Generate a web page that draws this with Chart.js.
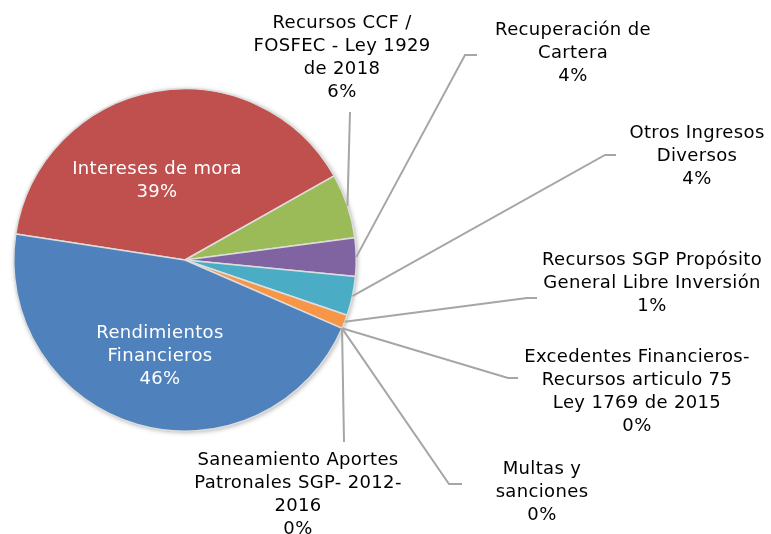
<!DOCTYPE html>
<html lang="es">
<head>
    <meta charset="UTF-8">
    <title>Ingresos</title>
    <script src="https://cdn.jsdelivr.net/npm/chart.js"></script>
    <style>
        html, body {
            margin: 0;
            padding: 0;
            background: #ffffff;
            overflow: hidden;
        }
        #wrap {
            width: 771px;
            height: 534px;
            position: relative;
        }
    </style>
</head>
<body>
    <div id="wrap"><canvas id="pieChart"></canvas></div>
    <script>
        // categories in drawing order (clockwise from the left edge)
        const categories = [
            'Intereses de mora',
            'Recursos CCF / FOSFEC - Ley 1929 de 2018',
            'Recuperación de Cartera',
            'Otros Ingresos Diversos',
            'Recursos SGP Propósito General Libre Inversión',
            'Excedentes Financieros- Recursos articulo 75 Ley 1769 de 2015',
            'Multas y sanciones',
            'Saneamiento Aportes Patronales SGP- 2012-2016',
            'Rendimientos Financieros'
        ];
        // share of total (%)
        const values = [39.4, 6.1, 3.6, 3.7, 1.3, 0, 0, 0, 45.9];
        // label text as it wraps on the chart
        const labelLines = [
            ['Intereses de mora'],
            ['Recursos CCF /', 'FOSFEC - Ley 1929', 'de 2018'],
            ['Recuperación de', 'Cartera'],
            ['Otros Ingresos', 'Diversos'],
            ['Recursos SGP Propósito', 'General Libre Inversión'],
            ['Excedentes Financieros-', 'Recursos articulo 75', 'Ley 1769 de 2015'],
            ['Multas y', 'sanciones'],
            ['Saneamiento Aportes', 'Patronales SGP- 2012-', '2016'],
            ['Rendimientos', 'Financieros']
        ];
        const colors = ['#C0504D', '#9BBB59', '#8064A2', '#4BACC6', '#F79646',
                        '#4F81BD', '#C0504D', '#9BBB59', '#4F81BD'];

        // where each label sits (center of first line), and its leader line
        const labelLayout = [
            { x: 157, y: 169, inside: true },
            { x: 342, y: 23, tail: [350, 112] },
            { x: 573, y: 30, tail: [477, 55], bend: [465, 55] },
            { x: 697, y: 133, tail: [616, 155], bend: [605, 155] },
            { x: 652, y: 260, tail: [537, 298], bend: [527, 298] },
            { x: 637, y: 357, tail: [518, 378], bend: [508, 378] },
            { x: 542, y: 469, tail: [462, 484], bend: [449, 484] },
            { x: 298, y: 460, tail: [344, 442] },
            { x: 160, y: 333, inside: true }
        ];

        const total = values.reduce((a, b) => a + b, 0);

        const shadowPlugin = {
            id: 'pieShadow',
            beforeDatasetsDraw(chart) {
                const arc = chart.getDatasetMeta(0).data[0];
                const ctx = chart.ctx;
                ctx.save();
                ctx.shadowColor = 'rgba(0,0,0,0.35)';
                ctx.shadowBlur = 5;
                ctx.shadowOffsetX = 1;
                ctx.shadowOffsetY = 1;
                ctx.fillStyle = '#ffffff';
                ctx.beginPath();
                ctx.arc(arc.x, arc.y, arc.outerRadius, 0, Math.PI * 2);
                ctx.fill();
                ctx.restore();
            }
        };

        const labelPlugin = {
            id: 'pieLabels',
            afterDatasetsDraw(chart) {
                const ctx = chart.ctx;
                const arcs = chart.getDatasetMeta(0).data;
                ctx.save();
                ctx.font = '18px "DejaVu Sans"';
                ctx.letterSpacing = '0.35px';
                ctx.textAlign = 'center';
                ctx.textBaseline = 'middle';
                arcs.forEach((arc, i) => {
                    const lay = labelLayout[i];
                    const p = arc.getProps(['x', 'y', 'startAngle', 'endAngle', 'outerRadius'], true);
                    const mid = (p.startAngle + p.endAngle) / 2;
                    const ax = p.x + Math.cos(mid) * p.outerRadius;
                    const ay = p.y + Math.sin(mid) * p.outerRadius;

                    if (!lay.inside) {
                        ctx.strokeStyle = '#A6A6A6';
                        ctx.lineWidth = 2;
                        ctx.beginPath();
                        ctx.moveTo(lay.tail[0], lay.tail[1]);
                        if (lay.bend) ctx.lineTo(lay.bend[0], lay.bend[1]);
                        ctx.lineTo(ax, ay);
                        ctx.stroke();
                    }

                    const pct = Math.round(values[i] / total * 100) + '%';
                    const lines = labelLines[i].concat([pct]);
                    ctx.fillStyle = lay.inside ? '#ffffff' : '#000000';
                    lines.forEach((t, k) => {
                        ctx.fillText(t, lay.x, lay.y + k * 23);
                    });
                });
                ctx.restore();
            }
        };

        const ctx = document.getElementById('pieChart').getContext('2d');
        new Chart(ctx, {
            type: 'pie',
            data: {
                labels: categories,
                datasets: [{
                    data: values,
                    backgroundColor: colors,
                    borderColor: '#DDDDDD',
                    borderWidth: 1.5
                }]
            },
            options: {
                responsive: true,
                maintainAspectRatio: false,
                animation: false,
                rotation: 278.75, // first slice starts just above the left edge
                layout: {
                    padding: { left: 13, top: 88, right: 414, bottom: 102 }
                },
                plugins: {
                    legend: { display: false },
                    tooltip: { enabled: false }
                }
            },
            plugins: [shadowPlugin, labelPlugin]
        });
    </script>
</body>
</html>
